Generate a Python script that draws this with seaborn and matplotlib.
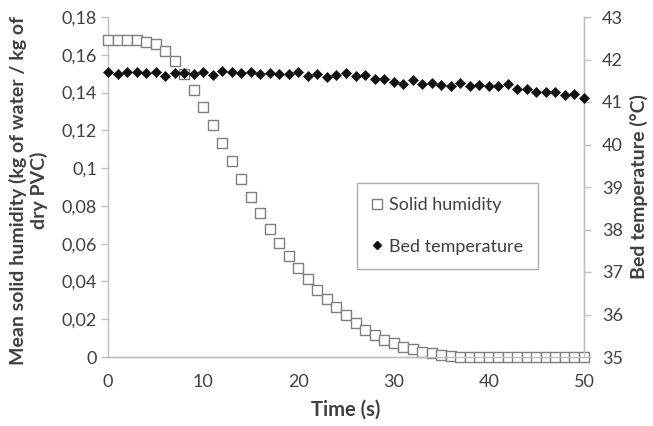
import matplotlib
matplotlib.use("Agg")
import matplotlib.pyplot as plt
import seaborn as sns
import pandas as pd
from matplotlib.lines import Line2D

time_s = list(range(0, 51))
solid_humidity = [0.168, 0.168, 0.168, 0.168, 0.167, 0.1655, 0.162, 0.1567, 0.1496, 0.1415,
                  0.1325, 0.1228, 0.1131, 0.1037, 0.094, 0.0849, 0.0761, 0.068, 0.0602, 0.0535,
                  0.047, 0.0411, 0.0355, 0.0305, 0.0263, 0.0222, 0.0178, 0.0143, 0.0116, 0.009,
                  0.0072, 0.0055, 0.004, 0.0028, 0.002, 0.001, 0.0007, 0.0, 0.0, 0.0,
                  0.0, 0.0, 0.0, 0.0, 0.0, 0.0, 0.0, 0.0, 0.0, 0.0, 0.0]
bed_temperature = [41.71, 41.66, 41.71, 41.71, 41.69, 41.70, 41.61, 41.675, 41.69, 41.66,
                   41.71, 41.635, 41.73, 41.71, 41.69, 41.71, 41.66, 41.69, 41.66, 41.65,
                   41.70, 41.61, 41.66, 41.60, 41.64, 41.69, 41.61, 41.64, 41.53, 41.53,
                   41.48, 41.42, 41.52, 41.42, 41.45, 41.40, 41.38, 41.45, 41.38, 41.40,
                   41.38, 41.38, 41.42, 41.30, 41.30, 41.24, 41.24, 41.24, 41.16, 41.19, 41.10]
left_ticks = [0, 0.02, 0.04, 0.06, 0.08, 0.1, 0.12, 0.14, 0.16, 0.18]
left_tick_labels = ["0", "0,02", "0,04", "0,06", "0,08", "0,1", "0,12", "0,14", "0,16", "0,18"]
right_ticks = [35, 36, 37, 38, 39, 40, 41, 42, 43]
x_ticks = [0, 10, 20, 30, 40, 50]

df = pd.DataFrame({"t": time_s, "h": solid_humidity, "T": bed_temperature})

sns.set_theme(style="white")
plt.rcParams["font.family"] = ["Lato", "DejaVu Sans"]

txt = "#404040"
spine_c = "#bfbfbf"

fig = plt.figure(figsize=(6.53, 4.26), dpi=100)
ax = fig.add_axes([108 / 653, 1 - 357 / 426, 476 / 653, 340 / 426])
ax2 = ax.twinx()

sns.scatterplot(data=df, x="t", y="h", ax=ax, marker="s", s=55, facecolor="white",
                edgecolor="#7f7f7f", linewidth=1.0, zorder=3, clip_on=False)
sns.scatterplot(data=df, x="t", y="T", ax=ax2, marker="D", s=28, color="#111111",
                edgecolor="#111111", linewidth=0.3, zorder=4, clip_on=False)

ax.set_xlim(0, 50)
ax.set_ylim(0, 0.18)
ax2.set_ylim(35, 43)
ax.set_xticks(x_ticks)
ax.set_xticklabels([str(v) for v in x_ticks])
ax.set_yticks(left_ticks)
ax.set_yticklabels(left_tick_labels)
ax2.set_yticks(right_ticks)
ax2.set_yticklabels([str(v) for v in right_ticks])

for a in (ax, ax2):
    for s in a.spines.values():
        s.set_color(spine_c)
        s.set_linewidth(1.0)
    a.spines["top"].set_visible(False)
    a.tick_params(colors=spine_c, labelcolor=txt, labelsize=13, length=5, width=1)
    a.grid(False)
ax2.spines["left"].set_visible(False)
ax.tick_params(axis="x", direction="inout", length=7, pad=9)
ax.tick_params(axis="y", direction="out", pad=3)
ax2.tick_params(axis="y", direction="out", pad=8)

ax.set_xlabel("Time (s)", fontsize=14.5, fontweight="bold", color=txt, labelpad=7)
ax.set_ylabel("Mean solid humidity (kg of water / kg of\ndry PVC)", fontsize=14,
              fontweight="bold", color=txt)
ax.yaxis.set_label_coords(-0.126, 0.49)
ax2.set_ylabel("Bed temperature (°C)", fontsize=14, fontweight="bold", color=txt, labelpad=5)

handles = [
    Line2D([], [], linestyle="none", marker="s", markersize=7, markerfacecolor="white",
           markeredgecolor="#7f7f7f", markeredgewidth=1.0),
    Line2D([], [], linestyle="none", marker="D", markersize=4.5, color="#111111"),
]
leg = ax.legend(handles, ["Solid humidity", "Bed temperature"], loc="upper left",
                bbox_to_anchor=(0.523, 0.512), frameon=True, fancybox=False,
                edgecolor="#999999", fontsize=13, labelspacing=1.4, handlelength=0.6,
                handletextpad=0.4, borderpad=0.8, borderaxespad=0)
for t in leg.get_texts():
    t.set_color(txt)
leg.get_frame().set_linewidth(1.0)
leg.set_zorder(10)

fig.savefig("out.png", dpi=100)
